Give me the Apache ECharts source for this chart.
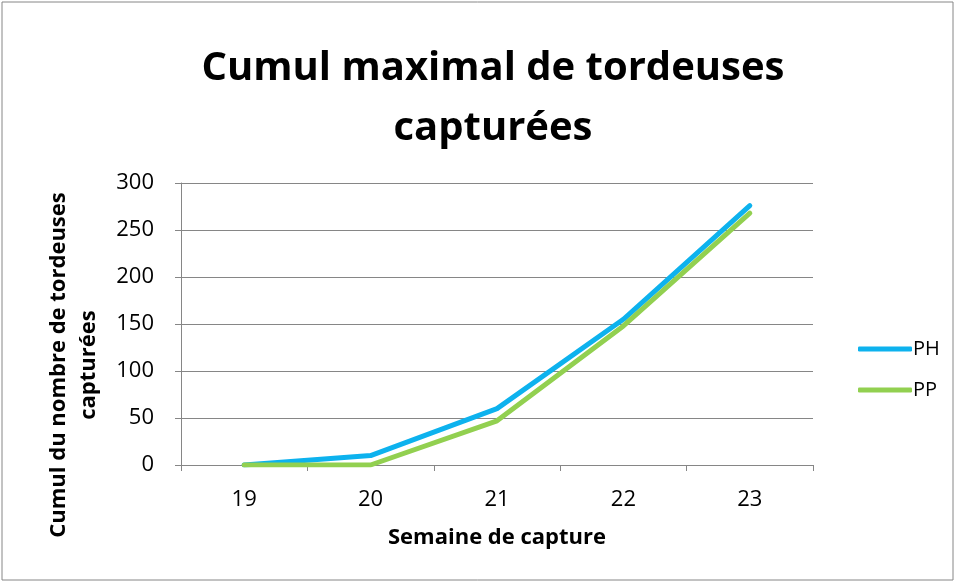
<!DOCTYPE html>
<html>
<head>
<meta charset="utf-8">
<script src="https://cdn.jsdelivr.net/npm/echarts@6/dist/echarts.min.js"></script>
<style>
  html, body { margin: 0; padding: 0; background: #fff; }
  #chart { width: 956px; height: 584px; }
</style>
</head>
<body>
<div id="chart"></div>
<script>
const weeks = ['19', '20', '21', '22', '23'];
const phValues = [0, 10, 60, 155, 276];
const ppValues = [0, 0, 47, 148, 268];
const seriesNames = ['PH', 'PP'];

const chart = echarts.init(document.getElementById('chart'));
const font = '"Open Sans", "Liberation Sans", sans-serif';

const option = {
  animation: false,
  textStyle: { fontFamily: font },
  graphic: [{
    type: 'rect',
    shape: { x: 2, y: 2, width: 951, height: 578 },
    style: { fill: 'none', stroke: '#868686', lineWidth: 1 },
    silent: true
  }],
  title: {
    text: 'Cumul maximal de tordeuses\ncapturées',
    left: 488,
    textAlign: 'center',
    top: 34,
    textStyle: {
      fontFamily: font,
      fontSize: 40,
      fontWeight: 'bold',
      color: '#000',
      lineHeight: 60
    }
  },
  legend: {
    orient: 'vertical',
    left: 853,
    top: 334,
    itemWidth: 54,
    itemHeight: 5,
    itemGap: 21,
    data: seriesNames.map(n => ({ name: n, icon: 'roundRect' })),
    textStyle: { fontFamily: font, fontSize: 20, color: '#000', padding: [0, 0, 0, -4] }
  },
  grid: {
    left: 181,
    right: 143,
    top: 183,
    bottom: 119,
    containLabel: false
  },
  xAxis: {
    type: 'category',
    data: weeks,
    boundaryGap: true,
    name: 'Semaine de capture',
    nameLocation: 'middle',
    nameGap: 62,
    nameTextStyle: { fontFamily: font, fontSize: 22, fontWeight: 'bold', color: '#000' },
    axisLine: { lineStyle: { color: '#868686', width: 1 } },
    axisTick: { show: true, length: 6, lineStyle: { color: '#868686' } },
    axisLabel: { fontFamily: font, fontSize: 22, color: '#000', margin: 24 }
  },
  yAxis: {
    type: 'value',
    min: 0,
    max: 300,
    interval: 50,
    name: 'Cumul du nombre de tordeuses\ncapturées',
    nameLocation: 'middle',
    nameGap: 77,
    nameTextStyle: {
      fontFamily: font, fontSize: 22, fontWeight: 'bold', color: '#000',
      lineHeight: 30, padding: [0, 82, 0, 0]
    },
    axisLine: { show: true, lineStyle: { color: '#868686', width: 1 } },
    axisTick: { show: true, length: 6, lineStyle: { color: '#868686' } },
    axisLabel: { fontFamily: font, fontSize: 22, color: '#000', margin: 27 },
    splitLine: { lineStyle: { color: '#868686', width: 1 } }
  },
  series: [
    {
      name: seriesNames[0],
      type: 'line',
      data: phValues,
      symbol: 'none',
      lineStyle: { color: '#0DB2EE', width: 5, cap: 'round', join: 'round' },
      itemStyle: { color: '#0DB2EE' },
      z: 2
    },
    {
      name: seriesNames[1],
      type: 'line',
      data: ppValues,
      symbol: 'none',
      lineStyle: { color: '#92D050', width: 5, cap: 'round', join: 'round' },
      itemStyle: { color: '#92D050' },
      z: 3
    }
  ]
};

chart.setOption(option);
</script>
</body>
</html>
